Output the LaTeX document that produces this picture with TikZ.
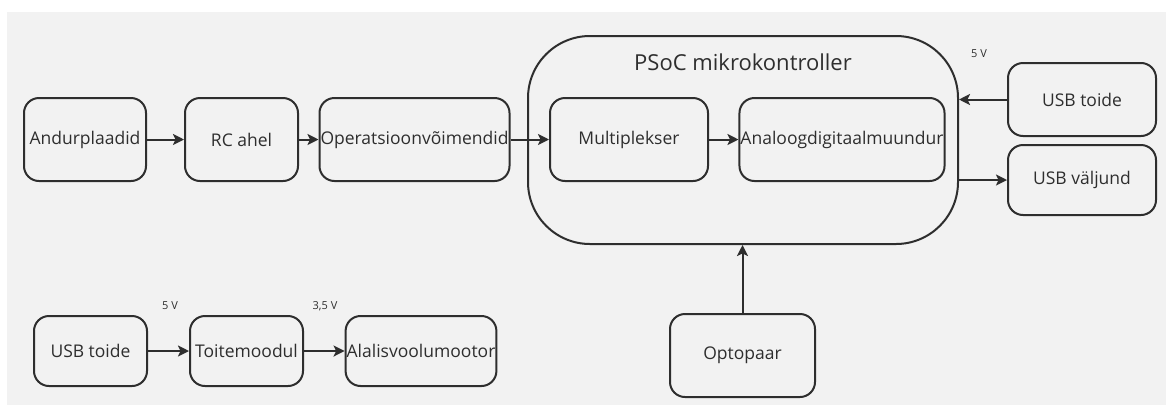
\documentclass[tikz,border=0pt]{standalone}
\usepackage{fontspec}
\setmainfont{Open Sans}
\usepackage{xcolor}
\usetikzlibrary{calc}
\usetikzlibrary{arrows.meta}

\definecolor{tint}{HTML}{2E2E2E}
\definecolor{taust}{HTML}{F2F2F2}

\begin{document}
\begin{tikzpicture}[x=1pt,y=-1pt]

\tikzset{
    box/.style = {
    draw=tint,
    line width=2pt,
    rounded corners=15pt,
    text=tint,
    font=\fontsize{17.5}{20}\selectfont,
    inner sep=1pt
    }
}

\tikzstyle{ulemine}=[box, minimum height=83pt]
\tikzstyle{alumine}=[box, minimum height=70pt]
\tikzstyle{pil}=[draw=tint, line width=2pt, -{Stealth[length=11pt, width=11pt, inset=2.5pt]}]
\tikzstyle{pinge}=[text=tint, font=\fontsize{11}{13}\selectfont]

\useasboundingbox (0,0) rectangle (1166,405);
\fill[white] (0,0) rectangle (1166,405);
\fill[taust] (7,12) rectangle (1166,405);

% signaali rada
\node (psoc) [box, rounded corners=62pt, minimum width=430pt, minimum height=208pt] at (743,140) {};
\node (psoc-nimi) [text=tint, font=\fontsize{22}{26}\selectfont] at (743,62) {PSoC mikrokontroller};

\node (andur) [ulemine, minimum width=122pt] at (85,139.5) {Andurplaadid};
\node (rc) [ulemine, minimum width=113pt] at (241.5,139.5) {RC ahel};
\node (opamp) [ulemine, minimum width=187pt] at (414.5,139.5) {Operatsioonvõimendid};
\node (mux) [ulemine, minimum width=158pt] at (629,139.5) {Multiplekser};
\node (adc) [ulemine, minimum width=200pt] at (842,139.5) {Analoogdigitaalmuundur};

\node (usb-toide) [box, minimum width=148pt, minimum height=73pt] at (1082,99.5) {USB toide};
\node (usb-valjund) [box, minimum width=148pt, minimum height=70pt] at (1082,180) {USB väljund};
\node (v-usb) [pinge] at (979,54) {5 V};

\node (opto) [ulemine, minimum width=145pt] at (742.5,355.5) {Optopaar};

% mootori toide
\node (usb-mootor) [alumine, minimum width=113pt] at (90.5,351) {USB toide};
\node (toitemoodul) [alumine, minimum width=113pt] at (246.5,351) {Toitemoodul};
\node (mootor) [alumine, minimum width=150pt] at (421,351) {Alalisvoolumootor};
\node (v-moodul) [pinge] at (170,306) {5 V};
\node (v-mootor) [pinge] at (325,306) {3,5 V};

\draw[pil] (andur) -- (rc);
\draw[pil] (rc) -- (opamp);
\draw[pil] (opamp) -- (mux);
\draw[pil] (mux) -- (adc);
\draw[pil] (usb-toide.west) -- (usb-toide.west -| psoc.east);
\draw[pil] (usb-valjund.west -| psoc.east) -- (usb-valjund.west);
\draw[pil] (opto.north) -- (opto.north |- psoc.south);

\draw[pil] (usb-mootor) -- (toitemoodul);
\draw[pil] (toitemoodul) -- (mootor);

\end{tikzpicture}
\end{document}
